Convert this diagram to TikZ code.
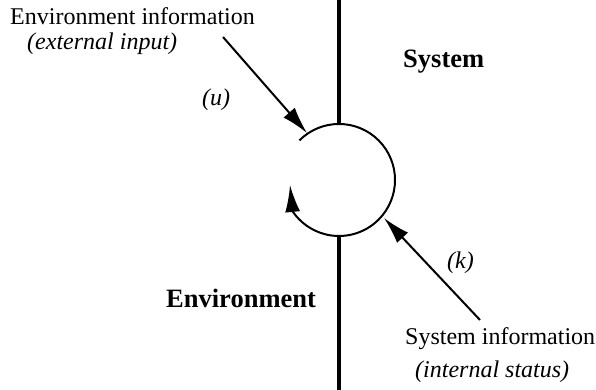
\documentclass[tikz,border=0pt]{standalone}
\usepackage{fontspec}
\setmainfont{Liberation Serif}
\usetikzlibrary{positioning, arrows.meta}

\begin{document}
\begin{tikzpicture}[x=1pt, y=1pt,
    info/.style={inner sep=0pt, font=\fontsize{24}{28}\selectfont},
    note/.style={inner sep=0pt, font=\fontsize{24}{28}\selectfont\itshape},
    part/.style={inner sep=0pt, font=\fontsize{26.5}{30}\selectfont\bfseries},
    flow/.style={line width=2pt, -{Latex[length=27pt, width=15pt]}}]
  \useasboundingbox (0,0) rectangle (596,390);

  % border between system and environment
  \coordinate (c) at (339,210);
  \coordinate (top) at (339,390);
  \coordinate (bottom) at (339,0);
  \draw[line width=4pt] (top) -- ([yshift=56pt]c);
  \draw[line width=4pt] ([yshift=-56pt]c) -- (bottom);

  % the loop
  \coordinate (loopend) at (290,205);
  \draw[flow] ([shift={(135:56)}]c) arc[start angle=135, end angle=-146, radius=56] -- (loopend);

  % texts
  \node[info, anchor=base west] (envinfo) at (10,365) {Environment information};
  \node[note, anchor=base west] (extin) at (27,340) {(external input)};
  \node[note, anchor=base west] (u) at (202,284) {(u)};
  \node[part, anchor=base west] (sys) at (403,322) {System};
  \node[part, anchor=base west] (env) at (166,82) {Environment};
  \node[note, anchor=base west] (k) at (447,121) {(k)};
  \node[info, anchor=base west] (sysinfo) at (405,45) {System information};
  \node[note, anchor=base west] (intst) at (415,12) {(internal status)};

  % inputs
  \coordinate (uin) at (223,353);
  \coordinate (uend) at (307,257);
  \coordinate (kin) at (480,70);
  \coordinate (kend) at (384,172);
  \draw[flow] (uin) -- (uend);
  \draw[flow] (kin) -- (kend);
\end{tikzpicture}
\end{document}
